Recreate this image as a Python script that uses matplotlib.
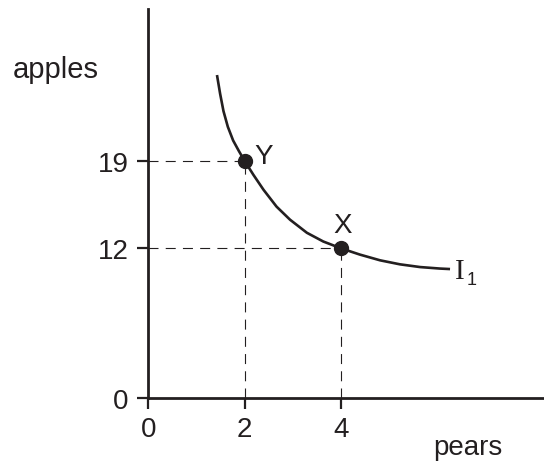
import matplotlib
matplotlib.use("Agg")
import matplotlib.pyplot as plt

# ---- data ----
curve_pears = [1.425, 1.49, 1.56, 1.65, 1.76, 1.88, 2.00, 2.18, 2.39, 2.66,
               2.94, 3.29, 3.63, 4.00, 4.39, 4.81, 5.22, 5.64, 6.05, 6.26]
curve_apples = [25.9, 24.4, 23.0, 21.75, 20.65, 19.8, 19.0, 17.9, 16.7, 15.35,
                14.3, 13.25, 12.55, 12.0, 11.5, 11.04, 10.72, 10.5, 10.38, 10.34]
point_pears = [2, 4]
point_apples = [19, 12]
point_labels = ["Y", "X"]
x_ticks = [0, 2, 4]
y_ticks = [0, 12, 19]
x_label = "pears"
y_label = "apples"
curve_label = "I"
curve_sub = "1"

W, H = 544, 464
ink = "#231f20"
plt.rcParams['font.family'] = ['Liberation Sans', 'DejaVu Sans']

fig = plt.figure(figsize=(W / 100, H / 100), dpi=100)
x0, x1 = 148.3, 544.0
y0, y1 = 399.0, 10.0
ax = fig.add_axes([x0 / W, 1 - y0 / H, (x1 - x0) / W, (y0 - y1) / H])
ax.set_xlim(0, (x1 - x0) / 48.2)
ax.set_ylim(0, (y0 - y1) / 12.47)

for s in ["top", "right"]:
    ax.spines[s].set_visible(False)
for s in ["left", "bottom"]:
    ax.spines[s].set_linewidth(2.0)
    ax.spines[s].set_color(ink)

ax.set_xticks(x_ticks)
ax.set_yticks(y_ticks)
ax.set_xticklabels([str(v) for v in x_ticks])
ax.set_yticklabels([str(v) for v in y_ticks])
ax.tick_params(axis="both", direction="out", length=8, width=1.6, colors=ink,
               labelsize=20, labelcolor=ink)
ax.tick_params(axis="x", pad=5)
ax.tick_params(axis="y", pad=6)

# dashed guides
for px, py in zip(point_pears, point_apples):
    ax.plot([0, px], [py, py], color=ink, lw=0.8, dashes=(9, 6.5), clip_on=False)
    ax.plot([px, px], [0, py], color=ink, lw=0.8, dashes=(9, 6.5), clip_on=False)

# indifference curve
ax.plot(curve_pears, curve_apples, color=ink, lw=1.9, solid_joinstyle="round",
        solid_capstyle="butt", zorder=3)

# points
ax.plot(point_pears, point_apples, "o", color=ink, ms=10, zorder=4)

def ftext(px, py, s, **kw):
    fig.text(px / W, 1 - py / H, s, color=ink, **kw)

ftext(254, 157, point_labels[0], fontsize=20, ha="left", va="center")
ftext(343, 226, point_labels[1], fontsize=20, ha="center", va="center")

ftext(13, 78, y_label, fontsize=21, ha="left", va="baseline")
ftext(468, 455, x_label, fontsize=20, ha="center", va="baseline")

ftext(455, 279, curve_label, fontsize=21, ha="left", va="baseline",
      family=["Liberation Serif", "DejaVu Serif"])
ftext(467, 285, curve_sub, fontsize=13, ha="left", va="baseline")

fig.savefig("out.png", dpi=100)
